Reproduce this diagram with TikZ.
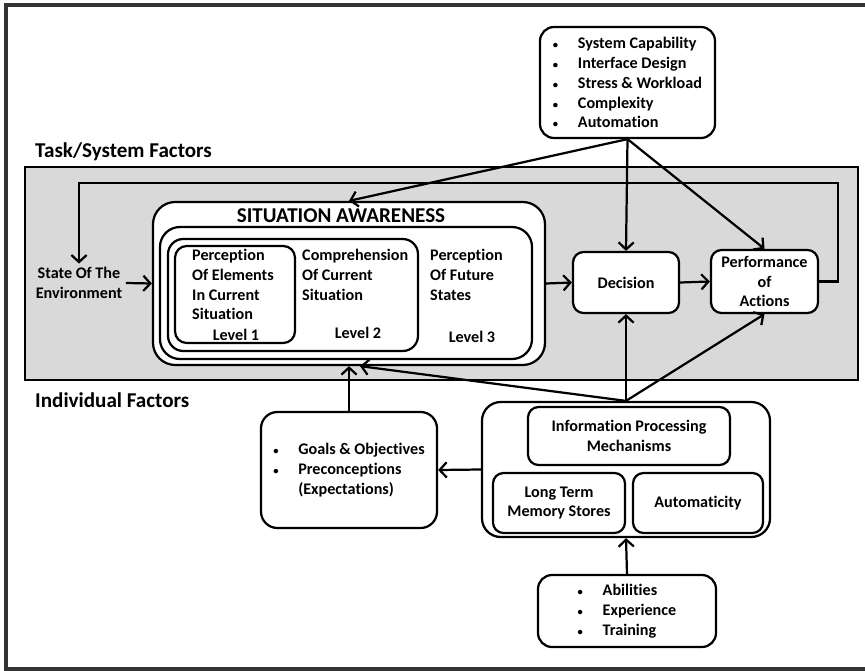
\documentclass[tikz,border=0pt]{standalone}
\usepackage{fontspec}
\setmainfont[Ligatures=NoCommon]{Carlito}
\usepackage{tikz}
\usetikzlibrary{arrows.meta}
\definecolor{SAGray} {HTML}{D9D9D9}
\definecolor{SAFrame}{HTML}{333333}
\newcommand\blt[1]{\makebox[0.75cm][l]{\fontsize{9}{9}\selectfont\textbullet}#1}

\begin{document}
\begin{tikzpicture}[x=0.03cm,y=-0.03cm,
    box/.style={draw,line width=1.9pt,rounded corners=#1,fill=white,
                font=\fontsize{13.8}{17}\selectfont\bfseries,align=center,inner sep=0pt},
    box/.default=9pt,
    txt/.style={font=\fontsize{13.8}{17}\selectfont\bfseries,align=left,inner sep=0pt},
    hdr/.style={font=\fontsize{18}{22}\selectfont\bfseries,inner sep=0pt},
    ar/.style={-{Straight Barb[length=6pt,width=13pt]},line width=1.9pt}
  ]
    \useasboundingbox (0,0) rectangle (865,671);
    \draw[SAFrame,line width=3pt] (865,5) -- (6,5) -- (6,669) -- (865,669);
    % task / system region
    \draw[fill=SAGray,line width=1.9pt] (25,167) rectangle (858,380);
    \node[hdr,anchor=west] (tsf) at (35,152) {Task/System Factors};
    \node[hdr,anchor=west] (ind) at (35,400) {Individual Factors};
    \node[box=12pt,align=left,minimum width=5.25cm,minimum height=3.33cm] (tasks) at (627.5,82.5)
      {\blt{System Capability}\\\blt{Interface Design}\\\blt{Stress \& Workload}\\
       \blt{Complexity}\\\blt{Automation}};
    % situation awareness
    \node[box=19pt,minimum width=11.76cm,minimum height=4.89cm] (sa) at (349,283.5) {};
    \node[box=17pt,minimum width=11.16cm,minimum height=3.96cm] (lv3) at (346,293) {};
    \node[box=13pt,minimum width=7.5cm,minimum height=3.36cm] (lv2) at (293,295) {};
    \node[box=10pt,minimum width=3.6cm,minimum height=2.91cm] (lv1) at (235,294.5) {};
    \node[hdr] (satitle) at (341,216) {SITUATION AWARENESS};
    \node[txt,anchor=west] (t1) at (192,284.5) {Perception\\Of Elements\\In Current\\Situation};
    \node[txt,anchor=west] (t2) at (302,274.5) {Comprehension\\Of Current\\Situation};
    \node[txt,anchor=west] (t3) at (430,275) {Perception\\Of Future\\States};
    \node[txt] (n1) at (236,335) {Level 1};
    \node[txt] (n2) at (358,333) {Level 2};
    \node[txt] (n3) at (472,337) {Level 3};
    \node[txt,align=center,inner sep=3pt] (env) at (79,283) {State Of The\\Environment};
    \node[box,minimum width=3.18cm,minimum height=1.83cm] (dec) at (626,282.5) {Decision};
    \node[box,minimum width=3.21cm,minimum height=1.89cm] (perf) at (764.5,281.5)
      {Performance\\of\\Actions};
    % individual factors
    \node[box=14pt,align=left,minimum width=5.28cm,minimum height=3.48cm] (goals) at (349,470)
      {\blt{Goals \& Objectives}\\\blt{Preconceptions}\\\hspace*{0.75cm}(Expectations)};
    \node[box=16pt,minimum width=8.64cm,minimum height=4.05cm] (ipm) at (626,469.5) {};
    \node[box,minimum width=6.06cm,minimum height=1.74cm] (proc) at (629,436)
      {Information Processing\\Mechanisms};
    \node[box,minimum width=3.96cm,minimum height=1.8cm] (ltm) at (559,503)
      {Long Term\\Memory Stores};
    \node[box,minimum width=3.9cm,minimum height=1.8cm] (auto) at (698,503) {Automaticity};
    \node[box=12pt,align=left,minimum width=5.34cm,minimum height=2.16cm] (abil) at (627,611)
      {\blt{Abilities}\\\blt{Experience}\\\blt{Training}};
    % connectors
    \coordinate (loop) at (838,183);
    \coordinate (saIn) at ([xshift=0.33cm]sa.south);
    \draw[ar] (env.east) -- (sa.west);
    \foreach \a/\b in {sa/dec,dec/perf}
      \draw[ar] (\a.east) -- (\b.west);
    \foreach \b in {sa,dec,perf}
      \draw[ar] (tasks.south) -- (\b.north);
    \foreach \b in {dec,perf}
      \draw[ar] (ipm.north) -- (\b.south);
    \draw[ar] (ipm.north) -- (saIn);
    \draw[ar] (goals.north) -- (sa.south);
    \draw[ar] (ipm.west) -- (goals.east);
    \draw[ar] (abil.north) -- (ipm.south);
    \draw[ar] (perf.east) -| (loop) -| (env.north);
  \end{tikzpicture}
\end{document}
